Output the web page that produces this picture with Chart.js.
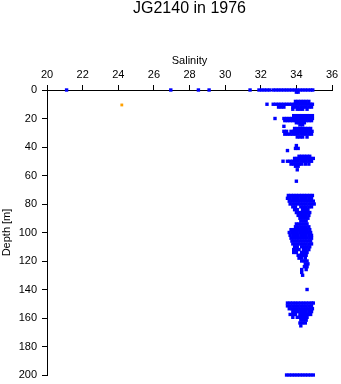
<!DOCTYPE html>
<html>
<head>
<meta charset="utf-8">
<script src="https://cdn.jsdelivr.net/npm/chart.js@4"></script>
<style>
  html, body { margin: 0; padding: 0; background: #fff; }
  #wrap { width: 341px; height: 384px; }
</style>
</head>
<body>
<div id="wrap"><canvas id="profileChart" width="341" height="384"></canvas></div>
<script>
// Salinitätsprofil JG2140, 1976
const xTicks = [20, 22, 24, 26, 28, 30, 32, 34, 36];
const yTicks = [0, 20, 40, 60, 80, 100, 120, 140, 160, 180, 200];

// Tiefen (m) je Messreihe
const depthRows = [
  0, 1.5, 8, 10, 12, 13.5,
  18, 20, 21.5, 23, 24.5, 25.5,
  27, 29, 31, 33,
  39, 41, 42.5,
  46.5, 48, 50, 52, 53.5, 56, 64,
  74, 76, 78, 80, 82, 84, 86, 88, 90, 92, 94, 96, 98, 100,
  102, 104, 106, 108, 110, 112, 114, 116, 118, 120,
  122, 124, 126, 128, 130, 140,
  149.5, 151.5, 153.5, 155.5, 157.5, 159.5, 161.5, 163.5, 165.5,
  200
];

// Salzgehalt je Tiefe (gleiche Reihenfolge wie depthRows)
const salinityRows = [
  [21.1, 26.95, 28.5, 29.1, 31.4, 31.9, 32.05, 32.2, 32.35, 32.5, 32.7, 32.85, 33.0, 33.15, 33.3, 33.45, 33.6, 33.75, 33.9, 34.05, 34.2, 34.35, 34.5, 34.65, 34.8, 34.92],
  [34.0, 34.1],
  [33.95, 34.1, 34.25, 34.4, 34.55, 34.7],
  [32.35, 32.7, 32.85, 33.0, 33.15, 33.3, 33.45, 33.6, 33.75, 33.9, 34.05, 34.2, 34.35, 34.5, 34.65, 34.8, 34.9],
  [33.0, 33.15, 33.3, 33.8, 33.95, 34.1, 34.25, 34.4, 34.55, 34.7, 34.85],
  [33.8, 34.05, 34.2, 34.35, 34.6],

  [33.85, 34.0, 34.15, 34.3, 34.45, 34.6, 34.75, 34.9],
  [32.8, 33.3, 33.45, 33.6, 33.75, 33.9, 34.05, 34.2, 34.35, 34.5, 34.65, 34.8, 34.9],
  [33.35, 33.5, 33.65, 33.8, 33.95, 34.1, 34.25, 34.4, 34.55, 34.7, 34.85],
  [34.0, 34.15, 34.3, 34.45],
  [34.2, 34.35],
  [33.3],

  [33.9, 34.05, 34.2, 34.35, 34.5, 34.65, 34.8],
  [33.3, 33.45, 33.7, 33.85, 34.0, 34.15, 34.3, 34.45, 34.6, 34.75, 34.88],
  [33.35, 33.5, 33.65, 33.8, 33.95, 34.1, 34.25, 34.4, 34.55, 34.7, 34.85],
  [34.05, 34.2, 34.35, 34.6],

  [34.0],
  [33.95, 34.1],
  [33.5],

  [34.15, 34.3, 34.45, 34.6, 34.75],
  [33.9, 34.05, 34.2, 34.35, 34.5, 34.65, 34.8, 34.95],
  [33.25, 33.5, 33.65, 33.8, 33.95, 34.1, 34.25, 34.4, 34.55, 34.7, 34.85],
  [33.7, 33.85, 34.0, 34.15, 34.3, 34.5, 34.7],
  [33.95, 34.1],
  [34.05],
  [34.0],

  [33.55, 33.7, 33.85, 34.0, 34.15, 34.3, 34.45, 34.6, 34.75, 34.9],
  [33.5, 33.65, 33.8, 33.95, 34.1, 34.25, 34.4, 34.55, 34.7, 34.85],
  [33.6, 33.75, 33.9, 34.05, 34.2, 34.35, 34.5, 34.65, 34.8, 34.95],
  [33.65, 33.8, 33.95, 34.1, 34.25, 34.4, 34.55, 34.7, 34.85, 35.0],
  [33.8, 33.95, 34.25, 34.4, 34.55, 34.7, 34.85],
  [33.9, 34.05, 34.35, 34.5, 34.65],
  [34.0, 34.15, 34.3, 34.45, 34.6, 34.75],
  [34.1, 34.25, 34.4, 34.55, 34.7],
  [34.2, 34.35, 34.5, 34.65],
  [34.25, 34.4, 34.55],
  [34.0, 34.15, 34.3, 34.45, 34.6],
  [33.95, 34.1, 34.25, 34.4, 34.55, 34.7],
  [33.7, 33.85, 34.0, 34.15, 34.3, 34.45, 34.6, 34.75],
  [33.6, 33.75, 33.9, 34.05, 34.2, 34.35, 34.5, 34.65, 34.8],

  [33.65, 33.8, 33.95, 34.1, 34.25, 34.4, 34.55, 34.7, 34.85],
  [33.7, 33.85, 34.0, 34.15, 34.3, 34.45, 34.6, 34.75, 34.85],
  [33.75, 33.9, 34.05, 34.2, 34.35, 34.5, 34.65, 34.8],
  [33.8, 33.95, 34.1, 34.25, 34.4, 34.55, 34.7, 34.85],
  [33.9, 34.05, 34.3, 34.45, 34.6, 34.75],
  [33.85, 34.0, 34.15, 34.4, 34.55, 34.7],
  [33.85, 34.0, 34.3, 34.45, 34.6],
  [34.1, 34.25, 34.4, 34.55],
  [34.15, 34.3, 34.5],
  [34.3, 34.45, 34.6],

  [34.5, 34.65],
  [34.45, 34.6],
  [34.3, 34.55],
  [34.3],
  [34.35],
  [34.6],

  [33.5, 33.65, 33.8, 33.95, 34.1, 34.25, 34.4, 34.55, 34.7, 34.85, 34.95],
  [33.5, 33.65, 33.8, 33.95, 34.1, 34.25, 34.4, 34.55, 34.7, 34.85],
  [33.6, 33.75, 33.9, 34.05, 34.2, 34.35, 34.5, 34.65, 34.8, 34.9],
  [33.8, 33.95, 34.1, 34.25, 34.4, 34.55, 34.7, 34.85],
  [33.65, 33.8, 33.95, 34.2, 34.35, 34.5, 34.65, 34.8],
  [33.8, 34.05, 34.2, 34.35, 34.5, 34.6],
  [34.25, 34.4, 34.55],
  [34.2, 34.35, 34.5],
  [34.25],

  [33.45, 33.6, 33.75, 33.9, 34.05, 34.2, 34.35, 34.5, 34.65, 34.8, 34.95]
];

// einzelner abweichender Wert (orange)
const outlierSalinity = [24.2];
const outlierDepth = [10.5];

const FONT = '"Liberation Sans", Arial, Helvetica, sans-serif';

const bluePoints = [];
depthRows.forEach((d, i) => {
  salinityRows[i].forEach(s => bluePoints.push({ x: s, y: d }));
});
const orangePoints = outlierSalinity.map((s, i) => ({ x: s, y: outlierDepth[i] }));

const ctx = document.getElementById('profileChart').getContext('2d');
new Chart(ctx, {
  type: 'scatter',
  data: {
    datasets: [
      { data: bluePoints, pointStyle: 'rect', pointRadius: 2.4, borderWidth: 0, backgroundColor: '#0000ff', clip: false },
      { data: orangePoints, pointStyle: 'rect', pointRadius: 2, borderWidth: 0, backgroundColor: '#ffa000', clip: false }
    ]
  },
  options: {
    responsive: false,
    animation: false,
    events: [],
    layout: { padding: { left: 0, right: 9, top: 0, bottom: 9 } },
    plugins: {
      legend: { display: false },
      tooltip: { enabled: false },
      title: {
        display: true,
        text: 'JG2140 in 1976',
        fullSize: false, // über der Plotfläche zentriert
        color: '#000',
        font: { family: FONT, size: 16, weight: 'normal', lineHeight: 1.1 },
        padding: { top: 0, bottom: 36.4 }
      }
    },
    scales: {
      x: {
        type: 'linear', position: 'top', min: 20, max: 36,
        afterBuildTicks: scale => { scale.ticks = xTicks.map(v => ({ value: v })); },
        afterFit: scale => { scale.height = 36; scale.paddingLeft = 0; scale.paddingRight = 0; },
        title: { display: true, text: 'Salinity', color: '#000', font: { family: FONT, size: 11 }, padding: { top: 0, bottom: 0 } },
        ticks: { color: '#000', font: { family: FONT, size: 11 }, padding: 3, maxRotation: 0 },
        grid: { drawOnChartArea: false, drawTicks: true, tickLength: 5, tickColor: '#000' },
        border: { display: true, color: '#000', width: 1 }
      },
      y: {
        type: 'linear', reverse: true, min: 0, max: 200, // Tiefe nach unten
        afterBuildTicks: scale => { scale.ticks = yTicks.map(v => ({ value: v })); },
        afterFit: scale => { scale.width = 47; scale.paddingTop = 0; scale.paddingBottom = 0; },
        title: { display: true, text: 'Depth [m]', color: '#000', font: { family: FONT, size: 11 }, padding: { top: 0, bottom: 0 } },
        ticks: { color: '#000', font: { family: FONT, size: 11 }, padding: 5 },
        grid: { drawOnChartArea: false, drawTicks: true, tickLength: 5, tickColor: '#000' },
        border: { display: true, color: '#000', width: 1 }
      }
    }
  }
});
</script>
</body>
</html>
